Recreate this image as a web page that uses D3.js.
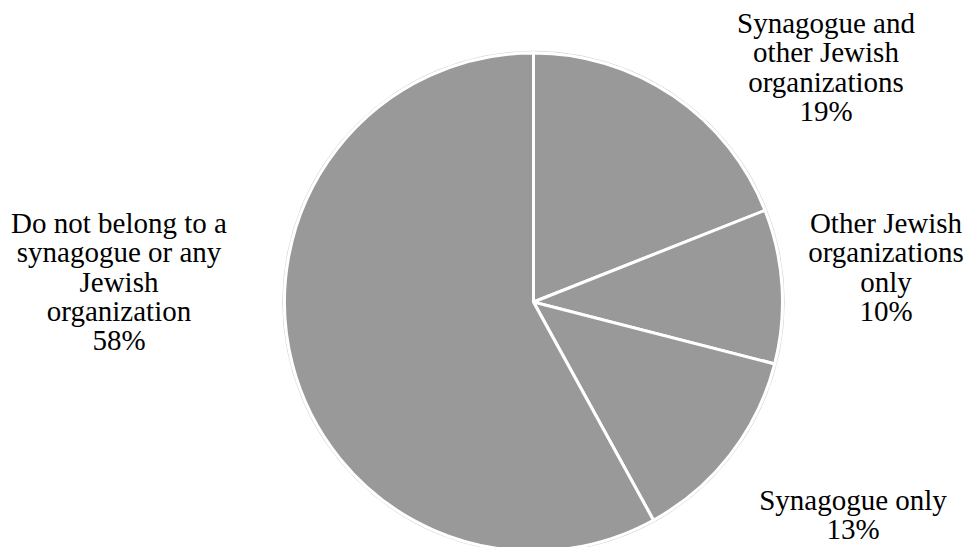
<!DOCTYPE html>
<html>
<head>
<meta charset="utf-8">
<script src="https://cdn.jsdelivr.net/npm/d3@7"></script>
</head>
<body style="margin:0">
<svg id="chart" width="972" height="547" style="font-family: 'Liberation Serif', Tinos, 'Times New Roman'"></svg>
<script>
// ---- data ----
const categories = [
  "Synagogue and other Jewish organizations",
  "Other Jewish organizations only",
  "Synagogue only",
  "Do not belong to a synagogue or any Jewish organization"
];
const labelLines = [
  ["Synagogue and", "other Jewish", "organizations"],
  ["Other Jewish", "organizations", "only"],
  ["Synagogue only"],
  ["Do not belong to a", "synagogue or any", "Jewish", "organization"]
];
const values = [19, 10, 13, 58];
const percentLabels = ["19%", "10%", "13%", "58%"];

// ---- layout ----
const cx = 533.5, cy = 302, R = 249;
const lineH = 29.3;
// label anchors: [x center, first baseline]
const labelAnchor = [[826, 33], [886, 233], [853, 510], [119, 233]];

const svg = d3.select("#chart");
const g = svg.append("g").attr("transform", `translate(${cx},${cy})`);

const pie = d3.pie().sort(null).value(d => d)
  .startAngle(0).endAngle(2 * Math.PI);
const arcs = pie(values);
const arc = d3.arc().innerRadius(0).outerRadius(R);

// faint outer ring
g.append("circle")
  .attr("r", R + 1.8)
  .attr("fill", "none")
  .attr("stroke", "#d9d9d9")
  .attr("stroke-width", 1);

g.selectAll("path.slice")
  .data(arcs)
  .enter().append("path")
  .attr("d", arc)
  .attr("fill", "#999999")
  .attr("stroke", "#ffffff")
  .attr("stroke-width", 3);

// labels: one text element per line
arcs.forEach((a, i) => {
  const lines = labelLines[i].concat([percentLabels[i]]);
  lines.forEach((ln, j) => {
    svg.append("text")
      .style("font-family", '"Liberation Serif", Tinos, "Times New Roman"')
      .attr("font-size", 29)
      .attr("fill", "#000")
      .attr("text-anchor", "middle")
      .attr("x", labelAnchor[i][0])
      .attr("y", labelAnchor[i][1] + j * lineH)
      .text(ln);
  });
});
</script>
</body>
</html>
